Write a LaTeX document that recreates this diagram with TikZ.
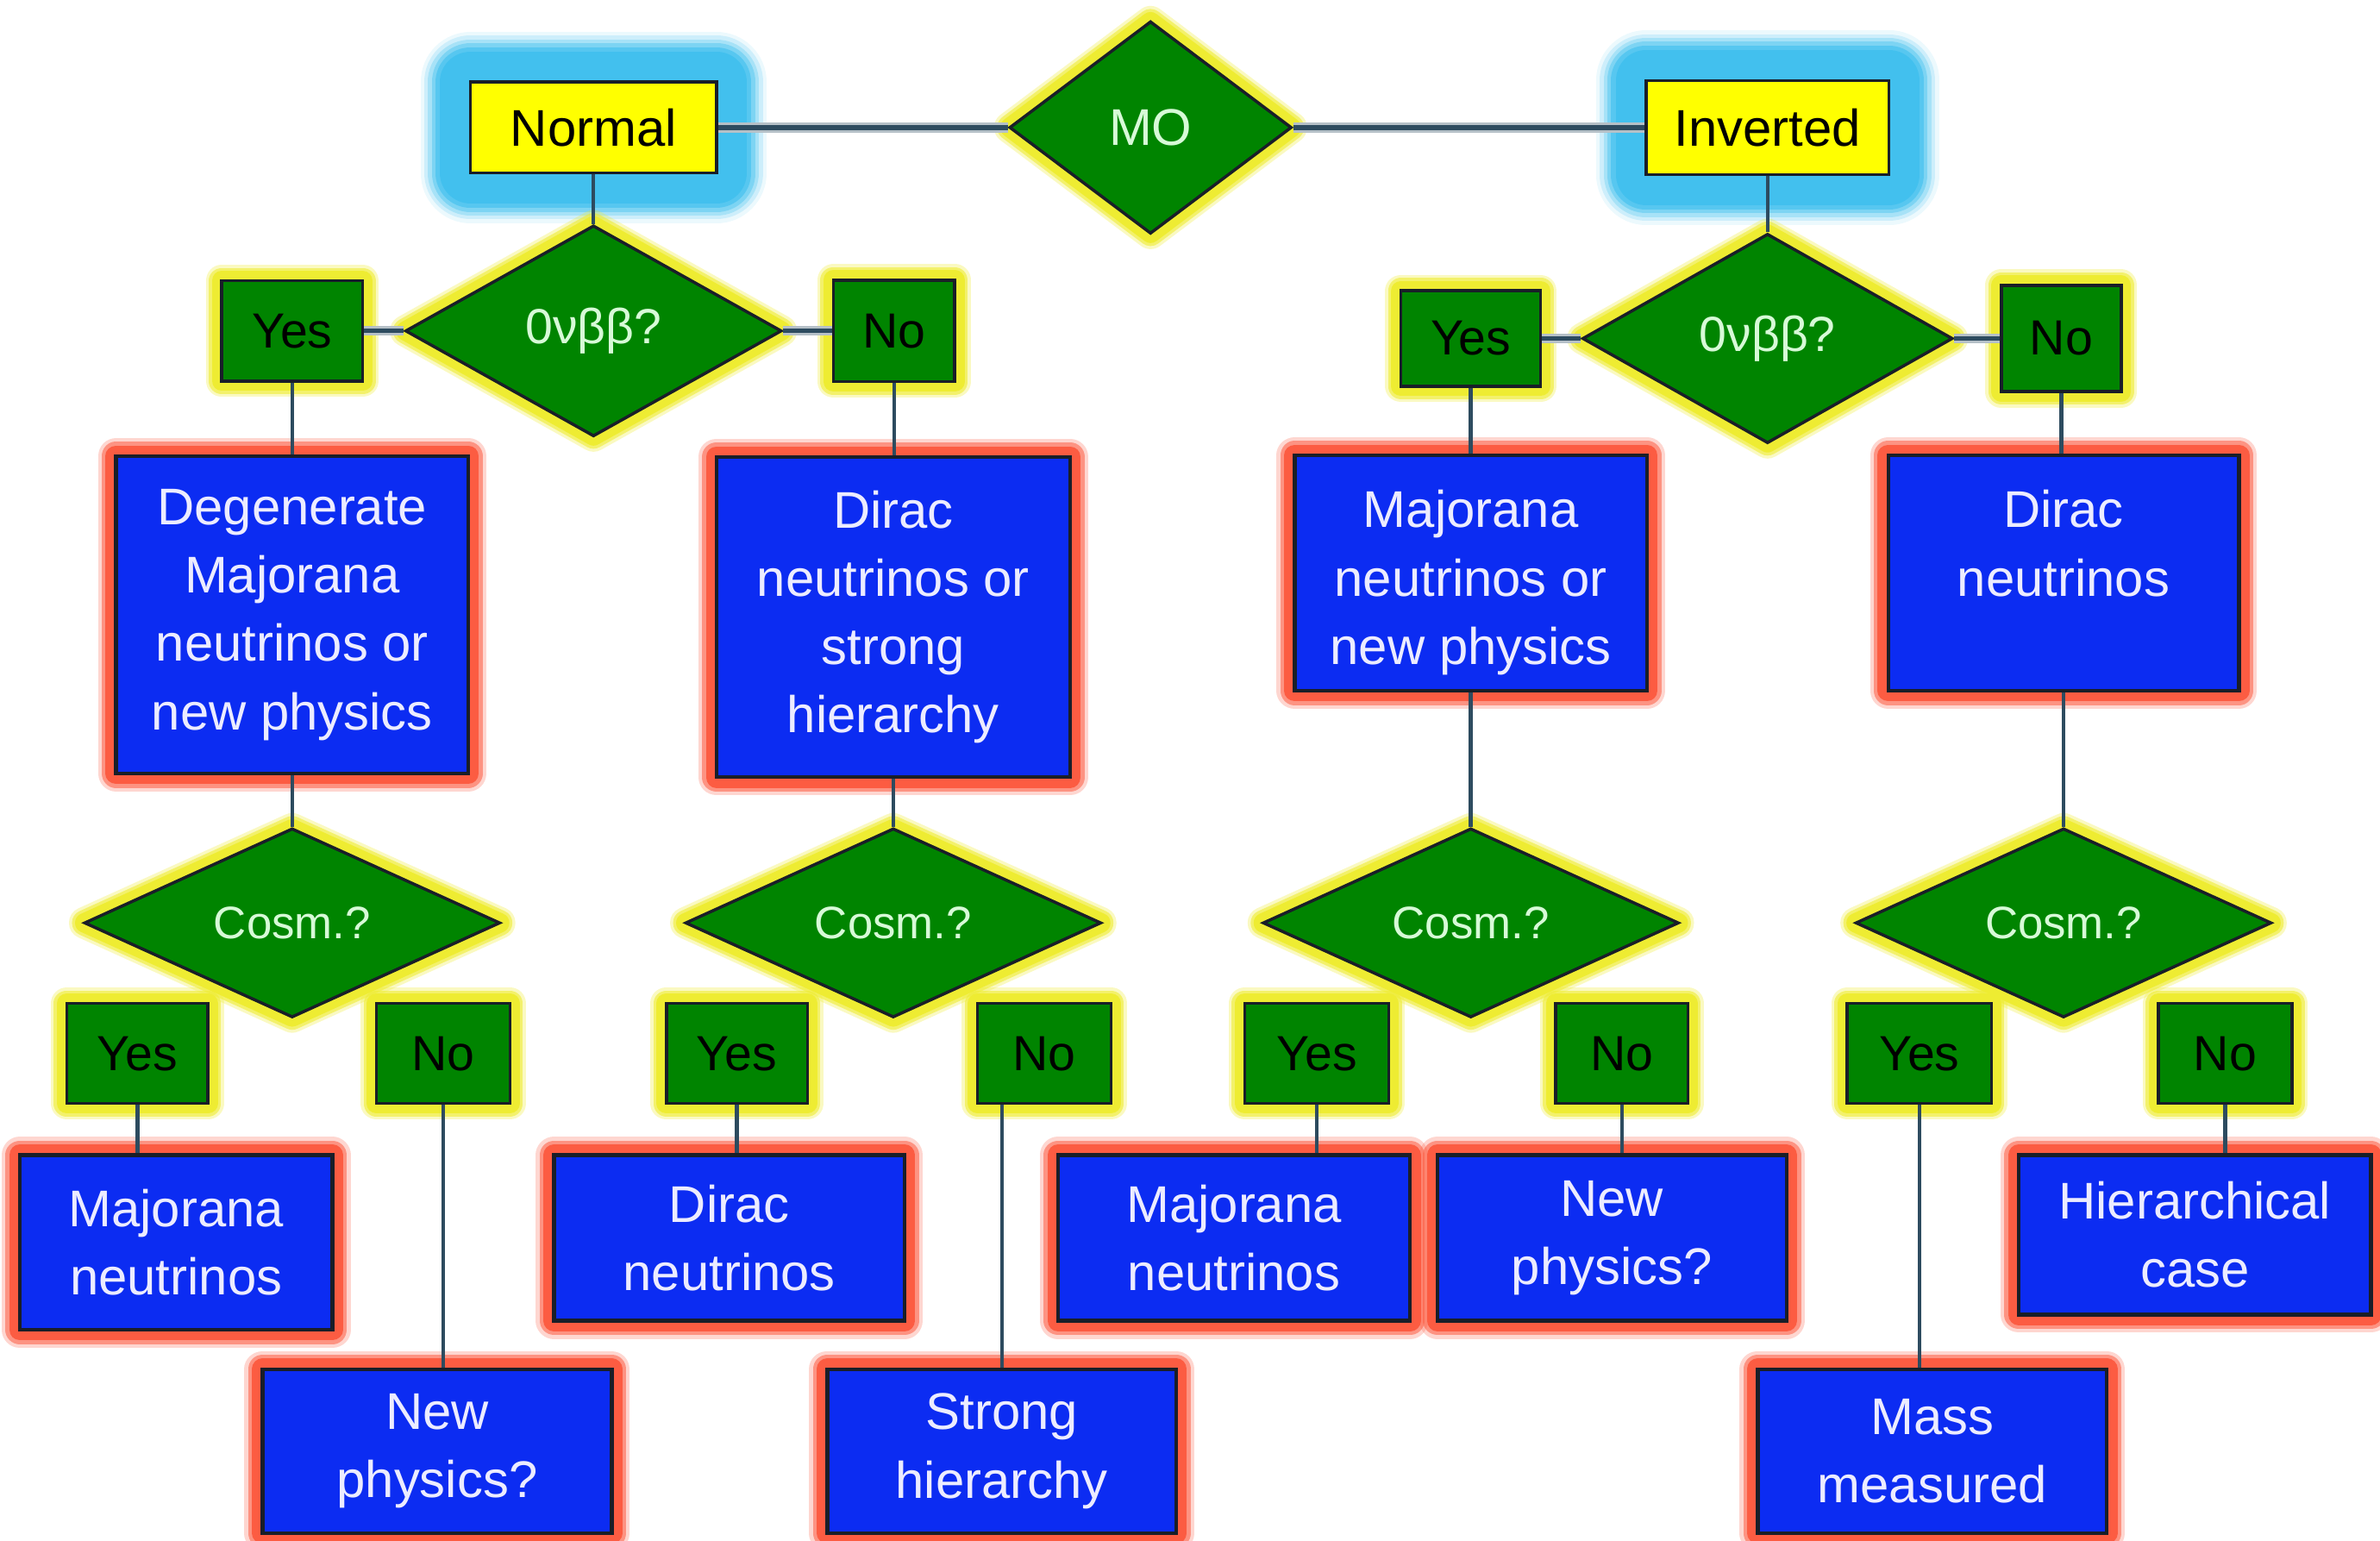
\documentclass[tikz,border=0pt]{standalone}
\usepackage{fontspec}
\setmainfont{Liberation Sans}
\usetikzlibrary{shapes.geometric}

\definecolor{boxyellow}{RGB}{255,255,0}
\definecolor{boxgreen}{RGB}{0,132,0}
\definecolor{boxblue}{RGB}{12,44,242}
\definecolor{edgedark}{RGB}{25,30,40}
\definecolor{haloyellow}{RGB}{238,236,50}
\definecolor{halored}{RGB}{252,92,66}
\definecolor{halocyan}{RGB}{66,192,238}
\definecolor{linkcol}{RGB}{45,75,95}
\definecolor{palegreen}{RGB}{215,250,215}
\definecolor{paleblue}{RGB}{236,236,255}

\tikzset{
  hcyan/.style={
    preaction={draw=halocyan,draw opacity=.10,line width=66pt,line join=round},
    preaction={draw=halocyan,draw opacity=.18,line width=61pt,line join=round},
    preaction={draw=halocyan,draw opacity=.28,line width=56pt,line join=round},
    preaction={draw=halocyan,draw opacity=.42,line width=51pt,line join=round},
    preaction={draw=halocyan,draw opacity=.65,line width=46pt,line join=round},
    preaction={draw=halocyan,line width=40pt,line join=round}},
  hyel/.style={
    preaction={draw=haloyellow,draw opacity=.3,line width=21pt,line join=round},
    preaction={draw=haloyellow,draw opacity=.6,line width=17pt,line join=round},
    preaction={draw=haloyellow,line width=13pt,line join=round}},
  hred/.style={
    preaction={draw=halored,draw opacity=.25,line width=24pt,line join=round},
    preaction={draw=halored,draw opacity=.55,line width=19pt,line join=round},
    preaction={draw=halored,line width=14pt,line join=round}},
  ybox/.style={rectangle,inner sep=0pt,fill=boxyellow,draw=edgedark,line width=2pt,
    hcyan,text=black,font=\fontsize{34}{40}\selectfont},
  gbox/.style={rectangle,inner sep=0pt,fill=boxgreen,draw=edgedark,line width=2pt,
    hyel,text=black,font=\fontsize{32.5}{40}\selectfont,minimum height=66pt},
  gdia/.style={diamond,inner sep=0pt,fill=boxgreen,draw=edgedark,line width=2pt,
    hyel,text=palegreen},
  cosm/.style={gdia,minimum width=274pt,minimum height=118pt,
    font=\fontsize{30}{36}\selectfont},
  bbox/.style={rectangle,inner sep=0pt,fill=boxblue,draw=edgedark,line width=2.5pt,
    hred,align=center,text=paleblue,font=\fontsize{34}{45}\selectfont},
  btext/.style={inner sep=0pt,align=center,text=paleblue,font=\fontsize{34}{45}\selectfont},
  link/.style={draw=linkcol,line width=2.5pt},
  blink/.style={draw=linkcol,line width=3pt,preaction={draw=linkcol!35,line width=6.5pt}}
}

\begin{document}
\begin{tikzpicture}[x=1pt,y=-1pt]
\useasboundingbox (0,0) rectangle (1568,1015);

% top row: mass ordering
\node[ybox,minimum width=162pt,minimum height=60pt] (normal) at (391,84) {Normal};
\node[ybox,minimum width=160pt,minimum height=62pt] (inverted) at (1164.5,84) {Inverted};
\node[gdia,minimum width=186pt,minimum height=140pt,font=\fontsize{34}{40}\selectfont] (mo) at (758,84) {MO};

% neutrinoless double beta decay questions
\node[gdia,minimum width=248pt,minimum height=139pt,font=\fontsize{32.5}{40}\selectfont] (qL) at (391,218) {0νββ?};
\node[gbox,minimum width=93pt] (yesL) at (192.5,218) {Yes};
\node[gbox,minimum width=80pt,minimum height=67pt] (noL) at (589,218) {No};
\node[gdia,minimum width=244pt,minimum height=138pt,font=\fontsize{32.5}{40}\selectfont] (qR) at (1164.5,223) {0νββ?};
\node[gbox,minimum width=92pt,minimum height=63pt] (yesR) at (969,223) {Yes};
\node[gbox,minimum width=79pt,minimum height=70pt] (noR) at (1358,223) {No};

% intermediate conclusions
\node[bbox,minimum width=232pt,minimum height=209pt] (degen) at (192.5,405)
  {Degenerate\\Majorana\\neutrinos or\\new physics};
\node[bbox,minimum width=233pt,minimum height=211pt] (diracS) at (588.5,406.5)
  {Dirac\\neutrinos or\\strong\\hierarchy};
\node[bbox,minimum width=232pt,minimum height=155pt] (majNP) at (969,377.5) {};
\node[btext,anchor=north] (majNPt) at ([yshift=-24pt]majNP.north)
  {Majorana\\neutrinos or\\new physics};
\node[bbox,minimum width=231pt,minimum height=155pt] (diracN) at (1359.5,377.5) {};
\node[btext,anchor=north] (diracNt) at ([yshift=-24pt]diracN.north) {Dirac\\neutrinos};

% cosmology questions
\node[cosm] (cA) at (192.5,608) {Cosm.?};
\node[cosm] (cB) at (588.5,608) {Cosm.?};
\node[cosm] (cC) at (969,608) {Cosm.?};
\node[cosm] (cD) at (1359.5,608) {Cosm.?};

% answers to the cosmology questions
\node[gbox,minimum width=93pt] (yA) at (90.5,694) {Yes};
\node[gbox,minimum width=88pt] (nA) at (292,694) {No};
\node[gbox,minimum width=93pt] (yB) at (485.5,694) {Yes};
\node[gbox,minimum width=88pt] (nB) at (688,694) {No};
\node[gbox,minimum width=95pt] (yC) at (867.5,694) {Yes};
\node[gbox,minimum width=87pt] (nC) at (1068.5,694) {No};
\node[gbox,minimum width=95pt] (yD) at (1264.5,694) {Yes};
\node[gbox,minimum width=88pt] (nD) at (1466,694) {No};

% final outcomes
\node[bbox,minimum width=206pt,minimum height=115pt] (majA) at (116,818.5) {Majorana\\neutrinos};
\node[bbox,minimum width=231pt,minimum height=109pt] (dirB) at (480.5,815.5) {Dirac\\neutrinos};
\node[bbox,minimum width=232pt,minimum height=109pt] (majC) at (813,815.5) {Majorana\\neutrinos};
\node[bbox,minimum width=230pt,minimum height=109pt] (newC) at (1062,815.5) {New\\physics?};
\node[bbox,minimum width=232pt,minimum height=105pt] (hierD) at (1446,813.5) {Hierarchical\\case};
\node[bbox,minimum width=230pt,minimum height=108pt] (newA) at (288,956) {New\\physics?};
\node[bbox,minimum width=230pt,minimum height=108pt] (strB) at (660,956) {Strong\\hierarchy};
\node[bbox,minimum width=230pt,minimum height=108pt] (massD) at (1273,956) {Mass\\measured};

% connectors
\draw[blink] (normal.east) -- (mo.west);
\draw[blink] (mo.east) -- (inverted.west);
\draw[link] (normal.south) -- (qL.north);
\draw[link] (inverted.south) -- (qR.north);
\draw[blink] (yesL.east) -- (qL.west);
\draw[blink] (qL.east) -- (noL.west);
\draw[blink] (yesR.east) -- (qR.west);
\draw[blink] (qR.east) -- (noR.west);

\draw[link] (yesL.south) -- (yesL.south |- degen.north);
\draw[link] (noL.south) -- (noL.south |- diracS.north);
\draw[link] (yesR.south) -- (yesR.south |- majNP.north);
\draw[link] (noR.south) -- (noR.south |- diracN.north);

\draw[link] (degen.south) -- (cA.north);
\draw[link] (diracS.south) -- (cB.north);
\draw[link] (majNP.south) -- (cC.north);
\draw[link] (diracN.south) -- (cD.north);

\draw[link] (yA.south) -- (yA.south |- majA.north);
\draw[link] (nA.south) -- (nA.south |- newA.north);
\draw[link] (yB.south) -- (yB.south |- dirB.north);
\draw[link] (strB.north) -- (strB.north |- nB.south);
\draw[link] (yC.south) -- (yC.south |- majC.north);
\draw[link] (nC.south) -- (nC.south |- newC.north);
\draw[link] (yD.south) -- (yD.south |- massD.north);
\draw[link] (nD.south) -- (nD.south |- hierD.north);
\end{tikzpicture}
\end{document}
